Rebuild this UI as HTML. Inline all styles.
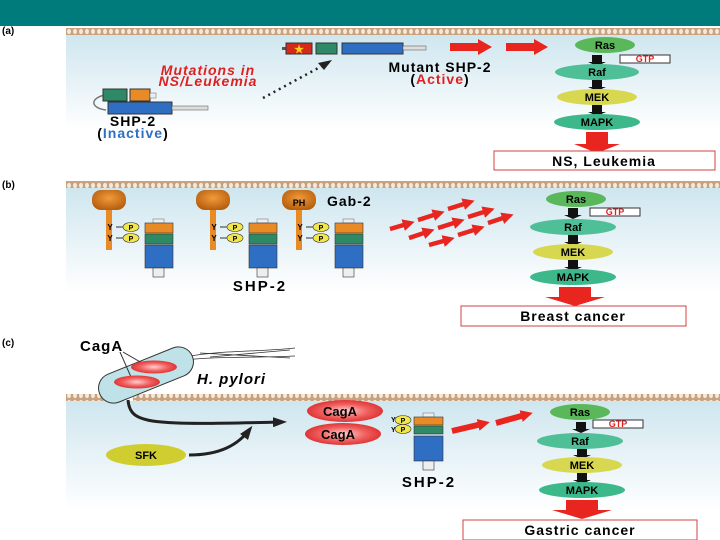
<!DOCTYPE html>
<html><head><style>body{margin:0;background:#fff}svg{display:block}</style></head><body>
<svg width="720" height="540" viewBox="0 0 720 540" xmlns="http://www.w3.org/2000/svg" font-family="Liberation Sans, sans-serif" font-weight="bold">
<defs>
<pattern id="mem" x="0" y="0" width="6" height="7" patternUnits="userSpaceOnUse">
<rect width="6" height="7" fill="#c8a27e"/><ellipse cx="3" cy="3.5" rx="2" ry="2.6" fill="#f3e8dc"/>
</pattern>
<linearGradient id="bg" x1="0" y1="0" x2="0" y2="1"><stop offset="0" stop-color="#cfe6ef"/><stop offset="1" stop-color="#ffffff"/></linearGradient>
<radialGradient id="org" cx="0.5" cy="0.4" r="0.6"><stop offset="0" stop-color="#f29a3a"/><stop offset="1" stop-color="#b65f10"/></radialGradient>
<radialGradient id="red" cx="0.5" cy="0.5" r="0.6"><stop offset="0" stop-color="#ffd0d0"/><stop offset="0.5" stop-color="#f06060"/><stop offset="1" stop-color="#d62020"/></radialGradient>
<marker id="ah" markerUnits="userSpaceOnUse" markerWidth="14" markerHeight="10" refX="10" refY="5" orient="auto"><path d="M0,0 L14,5 L0,10 z" fill="#222"/></marker>
<marker id="rh" markerUnits="userSpaceOnUse" markerWidth="12" markerHeight="12" refX="4" refY="6" orient="auto"><path d="M0,0 L12,6 L0,12z" fill="#e8251f"/></marker>
</defs>
<rect x="0" y="0" width="720" height="26" fill="#007b7b"/>

<!-- panel a -->
<rect x="66" y="35" width="654" height="95" fill="url(#bg)"/>
<rect x="66" y="28" width="654" height="7" fill="url(#mem)"/>
<text x="2" y="34" font-size="10">(a)</text>
<rect x="282" y="47" width="4" height="3" fill="#555"/>
<rect x="286" y="43" width="26" height="11" fill="#d42a1a" stroke="#333"/>
<text x="299" y="53" font-size="11" fill="#ffd21a" text-anchor="middle">★</text>
<rect x="316" y="43" width="21" height="11" fill="#2e8a66" stroke="#333"/>
<rect x="342" y="43" width="61" height="11" fill="#2e6fc4" stroke="#333"/>
<rect x="403" y="46" width="23" height="4" fill="#ddd" stroke="#666" stroke-width="0.6"/>
<text x="440" y="72" font-size="14" text-anchor="middle" letter-spacing="1">Mutant SHP-2</text>
<text x="440" y="84" font-size="14" text-anchor="middle" letter-spacing="1">(<tspan fill="#e02020">Active</tspan>)</text>
<text x="208" y="75" font-size="14" font-style="italic" fill="#e02020" text-anchor="middle" letter-spacing="1">Mutations in</text>
<text x="208" y="86" font-size="14" font-style="italic" fill="#e02020" text-anchor="middle" letter-spacing="1">NS/Leukemia</text>
<line x1="263" y1="98" x2="322" y2="66" stroke="#222" stroke-width="2.5" stroke-dasharray="2,4"/>
<path d="M318,63 L332,60 L324,70z" fill="#222"/>
<path d="M105,95 C90,98 90,108 106,110" fill="none" stroke="#777" stroke-width="1.5"/>
<rect x="103" y="89" width="24" height="12" fill="#2e8a66" stroke="#333"/>
<rect x="130" y="89" width="20" height="12" fill="#e88a25" stroke="#333"/>
<rect x="150" y="93" width="6" height="5" fill="#eee" stroke="#666" stroke-width="0.5"/>
<rect x="108" y="102" width="64" height="12" fill="#2e6fc4" stroke="#333"/>
<rect x="172" y="106" width="36" height="4" fill="#ddd" stroke="#666" stroke-width="0.6"/>
<text x="133" y="126" font-size="14" text-anchor="middle" letter-spacing="1">SHP-2</text>
<text x="133" y="138" font-size="14" text-anchor="middle" letter-spacing="1">(<tspan fill="#2e6fc4">Inactive</tspan>)</text>
<path d="M450,43 L478,43 L478,39 L492,47 L478,55 L478,51 L450,51z" fill="#e8251f"/>
<path d="M506,43 L534,43 L534,39 L548,47 L534,55 L534,51 L506,51z" fill="#e8251f"/>

<g font-size="11" text-anchor="middle">
<ellipse cx="605" cy="45" rx="30" ry="8" fill="#5ab85a"/><text x="605" y="49">Ras</text>
<rect x="620" y="55" width="50" height="8" fill="#fff" stroke="#333"/><text x="645" y="62" font-size="9" fill="#e02020">GTP</text>
<rect x="592" y="55" width="10" height="8" fill="#111"/><path d="M588,62 L606,62 L597,66z" fill="#111"/>
<ellipse cx="597" cy="72" rx="42" ry="8" fill="#4fbf98"/><text x="597" y="76">Raf</text>
<rect x="592" y="80" width="10" height="8" fill="#111"/><path d="M588,87 L606,87 L597,91z" fill="#111"/>
<ellipse cx="597" cy="97" rx="40" ry="8" fill="#d8d850"/><text x="597" y="101">MEK</text>
<rect x="592" y="105" width="10" height="8" fill="#111"/><path d="M588,112 L606,112 L597,116z" fill="#111"/>
<ellipse cx="597" cy="122" rx="43" ry="8" fill="#3cb88a"/><text x="597" y="126">MAPK</text>
</g>
<path d="M586,132 L608,132 L608,144 L620,144 L597,153 L574,144 L586,144z" fill="#e8251f"/>
<rect x="494" y="151" width="221" height="19" fill="#fff" stroke="#d04040"/>
<text x="604" y="166" font-size="14" text-anchor="middle" letter-spacing="1">NS, Leukemia</text>

<!-- panel b -->
<rect x="66" y="188" width="654" height="105" fill="url(#bg)"/>
<rect x="66" y="181" width="654" height="7" fill="url(#mem)"/>
<text x="2" y="188" font-size="10">(b)</text>
<g id="unit">
<rect x="92" y="190" width="34" height="20" rx="9" fill="url(#org)"/>
<rect x="106" y="210" width="6" height="40" fill="#e88a25"/>
<text x="110" y="230" font-size="8" text-anchor="middle">Y</text>
<text x="110" y="241" font-size="8" text-anchor="middle">Y</text>
<line x1="116" y1="227" x2="123" y2="227" stroke="#333"/>
<line x1="116" y1="238" x2="123" y2="238" stroke="#333"/>
<ellipse cx="131" cy="227" rx="8" ry="4.5" fill="#f2e64a" stroke="#333" stroke-width="0.6"/>
<ellipse cx="131" cy="238" rx="8" ry="4.5" fill="#f2e64a" stroke="#333" stroke-width="0.6"/>
<text x="131" y="230" font-size="7" text-anchor="middle">P</text>
<text x="131" y="241" font-size="7" text-anchor="middle">P</text>
<rect x="153" y="219" width="11" height="4" fill="#eee" stroke="#666" stroke-width="0.5"/>
<rect x="145" y="223" width="28" height="10" fill="#e88a25" stroke="#333" stroke-width="0.6"/>
<rect x="145" y="234" width="28" height="10" fill="#2e8a66" stroke="#333" stroke-width="0.6"/>
<rect x="145" y="245" width="28" height="23" fill="#2e6fc4" stroke="#333" stroke-width="0.6"/>
<rect x="153" y="268" width="11" height="9" fill="#eee" stroke="#333" stroke-width="0.6"/>
</g>
<use href="#unit" x="104"/>
<use href="#unit" x="190"/>
<text x="299" y="206" font-size="9" text-anchor="middle">PH</text>
<text x="327" y="206" font-size="14" letter-spacing="1">Gab-2</text>
<text x="260" y="291" font-size="15" text-anchor="middle" letter-spacing="2">SHP-2</text>
<g stroke="#e8251f" stroke-width="4.5" marker-end="url(#rh)">
<line x1="390" y1="229" x2="407" y2="224"/><line x1="418" y1="220" x2="437" y2="214"/><line x1="448" y1="209" x2="467" y2="203"/>
<line x1="409" y1="238" x2="427" y2="232"/><line x1="438" y1="228" x2="457" y2="222"/><line x1="468" y1="217" x2="487" y2="211"/>
<line x1="429" y1="245" x2="447" y2="240"/><line x1="458" y1="235" x2="477" y2="229"/><line x1="488" y1="223" x2="506" y2="217"/>
</g>
<g font-size="11" text-anchor="middle">
<ellipse cx="576" cy="199" rx="30" ry="8" fill="#5ab85a"/><text x="576" y="203">Ras</text>
<rect x="590" y="208" width="50" height="8" fill="#fff" stroke="#333"/><text x="615" y="215" font-size="9" fill="#e02020">GTP</text>
<rect x="568" y="208" width="10" height="8" fill="#111"/><path d="M564,215 L582,215 L573,219z" fill="#111"/>
<ellipse cx="573" cy="227" rx="43" ry="8" fill="#4fbf98"/><text x="573" y="231">Raf</text>
<rect x="568" y="235" width="10" height="8" fill="#111"/><path d="M564,242 L582,242 L573,246z" fill="#111"/>
<ellipse cx="573" cy="252" rx="40" ry="8" fill="#d8d850"/><text x="573" y="256">MEK</text>
<rect x="568" y="260" width="10" height="8" fill="#111"/><path d="M564,267 L582,267 L573,271z" fill="#111"/>
<ellipse cx="573" cy="277" rx="43" ry="8" fill="#3cb88a"/><text x="573" y="281">MAPK</text>
</g>
<path d="M559,287 L591,287 L591,297 L605,297 L575,306 L545,297 L559,297z" fill="#e8251f"/>
<rect x="461" y="306" width="225" height="20" fill="#fff" stroke="#d04040"/>
<text x="573" y="321" font-size="14" text-anchor="middle" letter-spacing="1">Breast cancer</text>

<!-- panel c -->
<rect x="66" y="401" width="654" height="110" fill="url(#bg)"/>
<rect x="66" y="394" width="654" height="7" fill="url(#mem)"/>
<rect x="117" y="394" width="16" height="7" fill="#fff"/>
<text x="2" y="346" font-size="10">(c)</text>
<text x="80" y="351" font-size="15" letter-spacing="1">CagA</text>
<path d="M185,357 C220,350 260,352 295,348 M185,360 C220,356 260,358 295,356 M200,353 L290,358 M210,357 L290,350" fill="none" stroke="#333" stroke-width="0.8"/>
<rect x="96" y="360" width="100" height="30" rx="15" transform="rotate(-22 146 375)" fill="#bfe2e8" stroke="#333" stroke-width="1"/>
<line x1="120" y1="352" x2="131" y2="377" stroke="#333"/><line x1="123" y1="352" x2="142" y2="363" stroke="#333"/>
<ellipse cx="154" cy="367" rx="23" ry="6.5" fill="url(#red)"/>
<ellipse cx="137" cy="382" rx="23" ry="6.5" fill="url(#red)"/>
<text x="197" y="384" font-size="15" font-style="italic" letter-spacing="1">H. pylori</text>
<path d="M128,400 C130,425 150,425 283,422" fill="none" stroke="#222" stroke-width="3" marker-end="url(#ah)"/>
<ellipse cx="146" cy="455" rx="40" ry="11" fill="#d0cd30"/>
<text x="146" y="459" font-size="11" text-anchor="middle">SFK</text>
<path d="M189,455 C220,455 238,445 250,429" fill="none" stroke="#222" stroke-width="3" marker-end="url(#ah)"/>
<ellipse cx="345" cy="411" rx="38" ry="11" fill="url(#red)"/>
<ellipse cx="343" cy="434" rx="38" ry="11" fill="url(#red)"/>
<text x="340" y="416" font-size="13" text-anchor="middle">CagA</text>
<text x="338" y="439" font-size="13" text-anchor="middle">CagA</text>
<text x="391" y="422" font-size="7">Y</text><text x="391" y="432" font-size="7">Y</text>
<ellipse cx="403" cy="420" rx="8" ry="4.5" fill="#f2e64a" stroke="#333" stroke-width="0.6"/>
<ellipse cx="403" cy="429" rx="8" ry="4.5" fill="#f2e64a" stroke="#333" stroke-width="0.6"/>
<text x="403" y="423" font-size="7" text-anchor="middle">P</text><text x="403" y="432" font-size="7" text-anchor="middle">P</text>
<rect x="423" y="413" width="11" height="4" fill="#eee" stroke="#666" stroke-width="0.5"/>
<rect x="414" y="417" width="29" height="8" fill="#e88a25" stroke="#333" stroke-width="0.6"/>
<rect x="414" y="426" width="29" height="8" fill="#2e8a66" stroke="#333" stroke-width="0.6"/>
<rect x="414" y="436" width="29" height="25" fill="#2e6fc4" stroke="#333" stroke-width="0.6"/>
<rect x="423" y="461" width="11" height="9" fill="#eee" stroke="#333" stroke-width="0.6"/>
<text x="429" y="487" font-size="15" text-anchor="middle" letter-spacing="2">SHP-2</text>
<g stroke="#e8251f" stroke-width="6" marker-end="url(#rh)">
<line x1="452" y1="431" x2="482" y2="424"/><line x1="496" y1="423" x2="525" y2="415"/>
</g>
<g font-size="11" text-anchor="middle">
<ellipse cx="580" cy="412" rx="30" ry="8" fill="#5ab85a"/><text x="580" y="416">Ras</text>
<rect x="593" y="420" width="50" height="8" fill="#fff" stroke="#333"/><text x="618" y="427" font-size="9" fill="#e02020">GTP</text>
<rect x="576" y="422" width="10" height="8" fill="#111"/><path d="M572,429 L590,429 L581,433z" fill="#111"/>
<ellipse cx="580" cy="441" rx="43" ry="8" fill="#4fbf98"/><text x="580" y="445">Raf</text>
<rect x="577" y="449" width="10" height="7" fill="#111"/><path d="M573,455 L591,455 L582,459z" fill="#111"/>
<ellipse cx="582" cy="465" rx="40" ry="8" fill="#d8d850"/><text x="582" y="469">MEK</text>
<rect x="577" y="473" width="10" height="8" fill="#111"/><path d="M573,480 L591,480 L582,484z" fill="#111"/>
<ellipse cx="582" cy="490" rx="43" ry="8" fill="#3cb88a"/><text x="582" y="494">MAPK</text>
</g>
<path d="M566,500 L598,500 L598,510 L612,510 L582,519 L552,510 L566,510z" fill="#e8251f"/>
<rect x="463" y="520" width="234" height="20" fill="#fff" stroke="#d04040"/>
<text x="580" y="535" font-size="14" text-anchor="middle" letter-spacing="1">Gastric cancer</text>
</svg>
</body></html>
